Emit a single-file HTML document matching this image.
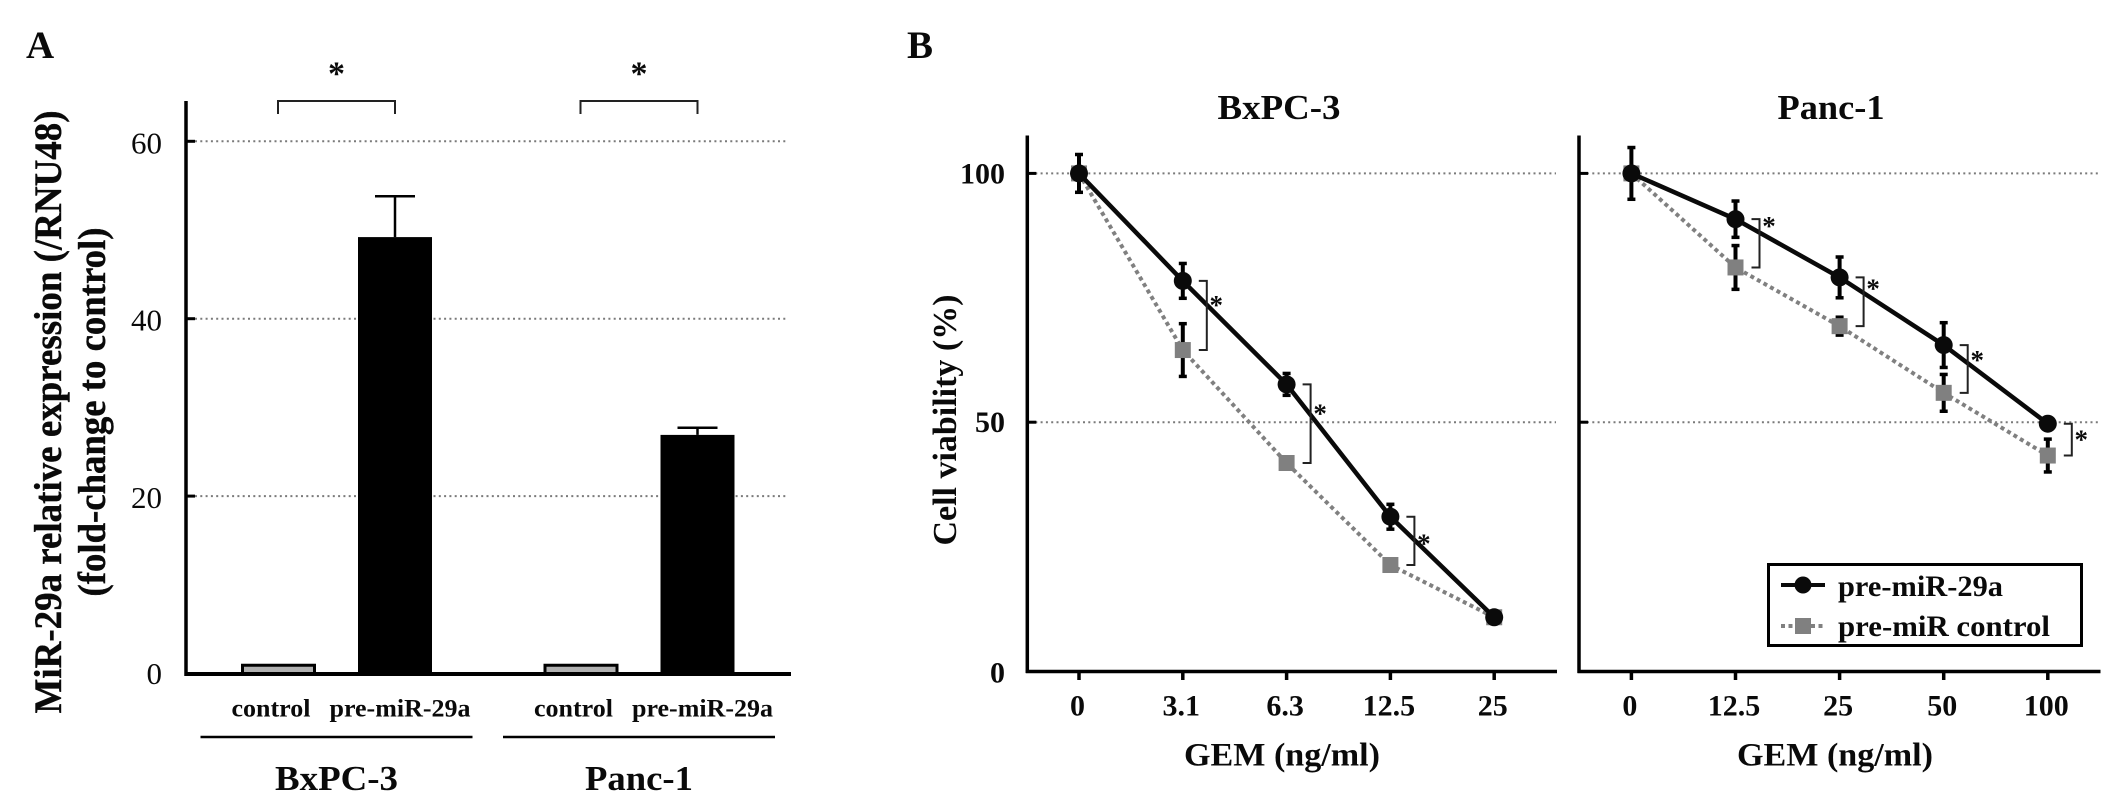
<!DOCTYPE html>
<html lang="en">
<head>
<meta charset="utf-8">
<title>MiR-29a expression and cell viability</title>
<style>
  html, body { margin: 0; padding: 0; background: #fff; }
  svg { display: block; font-family: "Liberation Serif", serif; }
  text { fill: #0a0a0a; }
</style>
</head>
<body>
<svg id="figure" xmlns="http://www.w3.org/2000/svg" width="2128" height="811" viewBox="0 0 2128 811"></svg>
<script>
// Panel A data
const barCategories = ['control', 'pre-miR-29a', 'control', 'pre-miR-29a'];
const barValues = [1.1, 49.2, 1.1, 26.9];
const barErrors = [0, 4.6, 0, 0.8];
const barTicks = [0, 20, 40, 60];
const barGroups = ['BxPC-3', 'Panc-1'];

// Panel B data
const bxDoses = ['0', '3.1', '6.3', '12.5', '25'];
const bxPreMir = [100, 78.4, 57.6, 31, 10.8];
const bxPreMirErr = [3.8, 3.5, 2.2, 2.5, 0];
const bxControl = [100, 64.5, 41.8, 21.3, 10.8];
const bxControlErr = [0, 5.3, 0, 0, 0];
const panDoses = ['0', '12.5', '25', '50', '100'];
const panPreMir = [100, 90.8, 79.1, 65.5, 49.7];
const panPreMirErr = [5.2, 3.65, 4.1, 4.5, 0];
const panControl = [100, 81.1, 69.3, 55.9, 43.3];
const panControlErr = [0, 4.4, 1.8, 3.7, 3.3];
const viabilityTicks = [0, 50, 100];

const svg = document.getElementById('figure');
const NS = 'http://www.w3.org/2000/svg';

function mk(tag, attrs, name, parent) {
  const el = document.createElementNS(NS, tag);
  for (const k in attrs) el.setAttribute(k, attrs[k]);
  
  
  (parent || svg).appendChild(el);
  return el;
}
function line(x1, y1, x2, y2, w, color, name, dash) {
  const a = { x1, y1, x2, y2, stroke: color, 'stroke-width': w };
  if (dash) a['stroke-dasharray'] = dash;
  return mk('line', a, name);
}
function text(str, x, y, size, weight, anchor, name, fit) {
  const a = { x, y, 'font-size': size, 'font-weight': weight, 'text-anchor': anchor };
  if (fit) { a.textLength = fit; a.lengthAdjust = 'spacingAndGlyphs'; }
  const el = mk('text', a, name);
  el.textContent = str;
  return el;
}
function vtext(str, cx, cy, size, fit, name) {
  const el = mk('text', {
    x: 0, y: 0, 'font-size': size, 'font-weight': 'bold', 'text-anchor': 'middle',
    textLength: fit, lengthAdjust: 'spacingAndGlyphs', stroke: '#0a0a0a', 'stroke-width': 0.4,
    transform: 'translate(' + cx + ' ' + cy + ') rotate(-90)'
  }, name);
  el.textContent = str;
  return el;
}
function star(xc, yc, size, name) {
  return text('*', xc, yc + 0.48 * size, size, 'bold', 'middle', name);
}

/* ---------- Panel A ---------- */
text('A', 26, 58, 39, 'bold', 'start', 'panel-a-label');
const yA = v => 673.5 - 8.87 * v;
const barX = i => 278 + 117 * (i % 2) + 302.5 * Math.floor(i / 2);

barTicks.forEach(t => {
  if (t > 0) line(195, yA(t), 788, yA(t), 2, '#7a7a7a', 'gridline-' + t, '2 3.3');
  if (t > 0) line(186, yA(t), 195, yA(t), 3, '#000', 'y-tick-' + t);
  text(String(t), 162, yA(t) + (t > 0 ? 12 : 10.5), 31, 'normal', 'end', 'y-tick-label-' + t);
});

barValues.forEach((v, i) => {
  const cx = barX(i);
  const isControl = barCategories[i] === 'control';
  if (barErrors[i] > 0) {
    line(cx, yA(v), cx, yA(v + barErrors[i]), 2.5, '#000', 'bar-error-' + i);
    line(cx - 20, yA(v + barErrors[i]), cx + 20, yA(v + barErrors[i]), 2.5, '#000', 'bar-error-cap-' + i);
  }
  if (isControl) {
    mk('rect', { x: cx - 35.5, y: yA(v) + 1.5, width: 72, height: yA(0) - yA(v) - 1.5, fill: '#b0b0b0', stroke: '#000', 'stroke-width': 3 }, 'bar-control-' + i);
  } else {
    mk('rect', { x: cx - 37, y: yA(v), width: 74, height: yA(0) - yA(v), fill: '#000' }, 'bar-pre-mir-' + i);
  }
  text(barCategories[i], cx + (isControl ? -7 : 5), 716.5, 25, 'bold', 'middle', 'bar-label-' + i, isControl ? 79 : 141);
});

line(186, 101, 186, 676, 3.5, '#000', 'y-axis-a');
line(185, 674, 791, 674, 4, '#000', 'x-axis-a');

barGroups.forEach((g, k) => {
  const l = barX(k * 2), r = barX(k * 2 + 1);
  mk('path', { d: 'M' + l + ' 114V101H' + r + 'V114', fill: 'none', stroke: '#222', 'stroke-width': 2 }, 'significance-bracket-' + g);
  star((l + r) / 2, 68, 34, 'significance-star-' + g);
  line(l - 77.5, 737, r + 77.5, 737, 2.5, '#000', 'group-underline-' + g);
  text(g, (l + r) / 2, 790, 35, 'bold', 'middle', 'group-label-' + g, k === 0 ? 123 : 108);
});

vtext('MiR-29a relative expression (/RNU48)', 61, 412, 39, 603, 'y-axis-title-a-line-1');
vtext('(fold-change to control)', 105, 412, 39, 369, 'y-axis-title-a-line-2');

/* ---------- Panel B ---------- */
text('B', 907, 58, 39, 'bold', 'start', 'panel-b-label');
const yB = v => 671 - 4.976 * v;

function drawPanel(key, title, titleX, titleFit, doses, black, blackErr, gray, grayErr, x0, step, axisX, axisEnd, gemX, showLabels) {
  const xB = i => x0 + step * i;

  viabilityTicks.forEach(t => {
    if (t > 0) {
      line(axisX + 8, yB(t), axisEnd - 1, yB(t), 2, '#7a7a7a', key + '-gridline-' + t, '2 3.3');
      line(axisX, yB(t), axisX + 9, yB(t), 3, '#000', key + '-y-tick-' + t);
    }
    if (showLabels) text(String(t), 1005, yB(t) + (t > 0 ? 10 : 11.5), 30, 'bold', 'end', key + '-y-tick-label-' + t);
  });

  line(axisX, 135.5, axisX, 673, 3.5, '#000', key + '-y-axis');
  line(axisX - 1.5, 671.5, axisEnd, 671.5, 3.5, '#000', key + '-x-axis');

  doses.forEach((d, i) => {
    line(xB(i), 671, xB(i), 680, 3.5, '#000', key + '-x-tick-' + d);
    text(d, xB(i) - 1.5, 715.5, 30, 'bold', 'middle', key + '-x-tick-label-' + d);
  });
  text('GEM (ng/ml)', gemX, 765.5, 33, 'bold', 'middle', key + '-x-axis-title', 196);
  text(title, titleX, 119, 35, 'bold', 'middle', key + '-title', titleFit);

  const pts = vals => vals.map((v, i) => xB(i) + ',' + yB(v)).join(' ');

  mk('polyline', { points: pts(gray), fill: 'none', stroke: '#808080', 'stroke-width': 4, 'stroke-dasharray': '4 3.5' }, key + '-control-line');
  gray.forEach((v, i) => {
    if (grayErr[i] > 0) errorBar(xB(i), v, grayErr[i], key + '-control-error-' + i);
  });
  gray.forEach((v, i) => {
    mk('rect', { x: xB(i) - 8, y: yB(v) - 8, width: 16, height: 16, fill: '#808080' }, key + '-control-point-' + i);
  });

  mk('polyline', { points: pts(black), fill: 'none', stroke: '#0a0a0a', 'stroke-width': 4.5 }, key + '-pre-mir-line');
  black.forEach((v, i) => {
    if (blackErr[i] > 0) errorBar(xB(i), v, blackErr[i], key + '-pre-mir-error-' + i);
  });
  black.forEach((v, i) => {
    mk('ellipse', { cx: xB(i), cy: yB(v), rx: 9, ry: 9, fill: '#0a0a0a' }, key + '-pre-mir-point-' + i);
  });

  return function bracket(i, starDy) {
    const xl = xB(i) + 16, xr = xB(i) + 24;
    const top = yB(black[i]), bottom = yB(gray[i]);
    mk('path', { d: 'M' + xl + ' ' + top + 'H' + xr + 'V' + bottom + 'H' + xl, fill: 'none', stroke: '#222', 'stroke-width': 2 }, key + '-significance-bracket-' + i);
    star(xr + 9.5, top + starDy, 27, key + '-significance-star-' + i);
  };
}

function errorBar(x, v, e, name) {
  const hi = yB(v + e), lo = yB(v - e);
  line(x, hi, x, lo, 4, '#000', name);
  line(x - 4, hi, x + 4, hi, 3.5, '#000', name + '-cap-high');
  line(x - 4, lo, x + 4, lo, 3.5, '#000', name + '-cap-low');
}

const bxBracket = drawPanel('bxpc3', 'BxPC-3', 1279, 123, bxDoses, bxPreMir, bxPreMirErr, bxControl, bxControlErr, 1079, 103.8, 1027.3, 1557, 1282, true);
bxBracket(1, 20);
bxBracket(2, 25);
bxBracket(3, 23);

const panBracket = drawPanel('panc1', 'Panc-1', 1831, 107, panDoses, panPreMir, panPreMirErr, panControl, panControlErr, 1631.4, 104.1, 1579, 2100.5, 1835, false);
panBracket(1, 3);
panBracket(2, 7);
panBracket(3, 11);
panBracket(4, 12);

text('Cell viability (%)', 0, 0, 34, 'bold', 'middle', 'y-axis-title-b', 251)
  .setAttribute('transform', 'translate(956 420) rotate(-90)');

/* ---------- Legend ---------- */
mk('rect', { x: 1768.5, y: 564.5, width: 313, height: 81, fill: '#fff', stroke: '#000', 'stroke-width': 3 }, 'legend-box');
line(1781, 585, 1825, 585, 4, '#0a0a0a', 'legend-line-pre-mir');
mk('circle', { cx: 1803, cy: 585, r: 8.5, fill: '#0a0a0a' }, 'legend-marker-pre-mir');
text('pre-miR-29a', 1838, 596, 30, 'bold', 'start', 'legend-label-pre-mir', 165);
line(1781, 626, 1825, 626, 4, '#808080', 'legend-line-control', '4 3.5');
mk('rect', { x: 1795, y: 618, width: 16, height: 16, fill: '#808080' }, 'legend-marker-control');
text('pre-miR control', 1838, 636, 30, 'bold', 'start', 'legend-label-control', 212);
</script>
</body>
</html>
